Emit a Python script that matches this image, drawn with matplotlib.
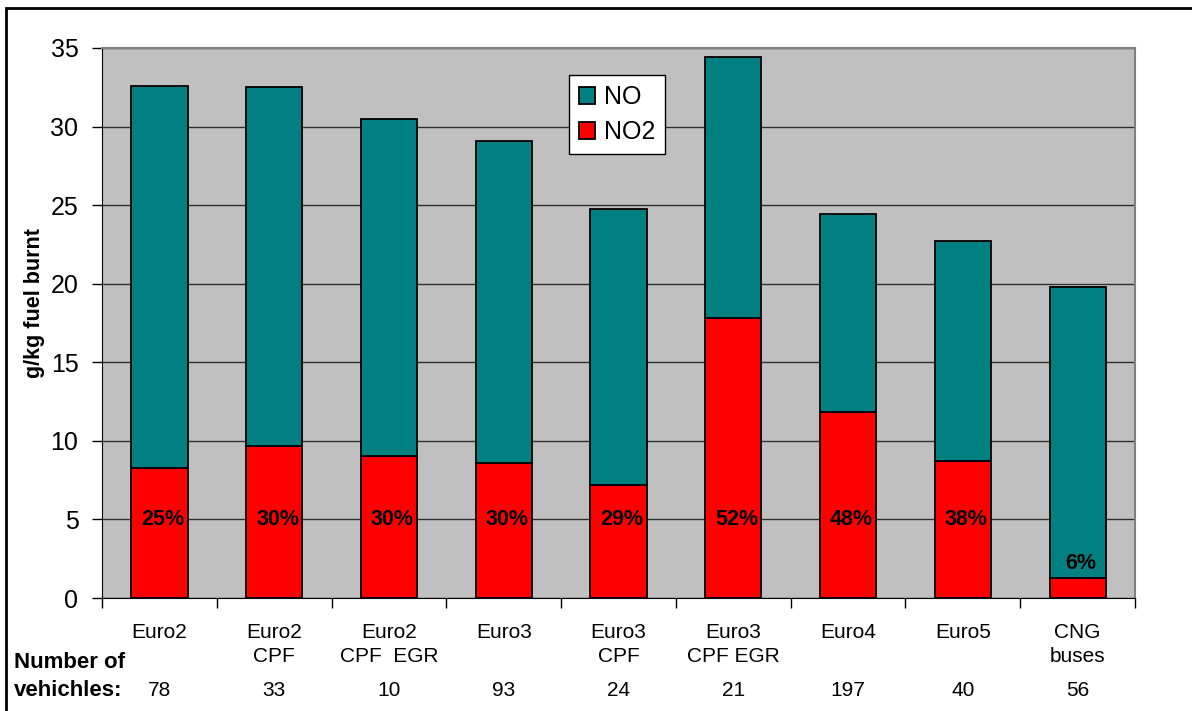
import matplotlib.pyplot as plt
from matplotlib.patches import Rectangle
from matplotlib.transforms import blended_transform_factory

plt.rcParams['font.family'] = ['Liberation Sans', 'DejaVu Sans']

# ==========================
# Data
# ==========================
cat_line1 = ["Euro2", "Euro2", "Euro2", "Euro3", "Euro3", "Euro3", "Euro4", "Euro5", "CNG"]
cat_line2 = ["", "CPF", "CPF  EGR", "", "CPF", "CPF EGR", "", "", "buses"]
n_vehicles = [78, 33, 10, 93, 24, 21, 197, 40, 56]
total_nox = [32.6, 32.5, 30.45, 29.05, 24.75, 34.4, 24.45, 22.7, 19.8]
no2 = [8.3, 9.7, 9.05, 8.6, 7.2, 17.85, 11.85, 8.75, 1.3]
no2_share = ["25%", "30%", "30%", "30%", "29%", "52%", "48%", "38%", "6%"]

no = [t - n for t, n in zip(total_nox, no2)]
x = list(range(len(cat_line1)))

fig = plt.figure(figsize=(11.92, 7.11), dpi=100)
ax = fig.add_axes([0.0856, 0.1589, 0.8666, 0.7736])

ax.set_facecolor("#C0C0C0")
ax.bar(x, no2, width=0.49, color="#FF0000", edgecolor="black", linewidth=1.3,
       label="NO2", zorder=3)
ax.bar(x, no, width=0.49, bottom=no2, color="#008080", edgecolor="black",
       linewidth=1.3, label="NO", zorder=3)

ax.set_xlim(-0.5, len(x) - 0.5)
ax.set_ylim(0, 35)
ax.set_yticks(range(0, 36, 5))
ax.yaxis.grid(True, color="#303030", linewidth=1.0, zorder=1)
ax.tick_params(axis="y", labelsize=18, direction="out", length=7, width=1, pad=10)

# tick marks on category boundaries, no labels
ax.set_xticks([i - 0.5 for i in range(len(x) + 1)])
ax.set_xticklabels([])
ax.tick_params(axis="x", direction="out", length=7, width=1)

for side in ["top", "right"]:
    ax.spines[side].set_color("#808080")
    ax.spines[side].set_linewidth(1.5)
ax.spines["left"].set_color("black")
ax.spines["bottom"].set_color("black")

ax.set_ylabel("g/kg fuel burnt", fontsize=15.5, fontweight="bold")
ax.yaxis.set_label_coords(-0.055, 0.536)

# percentage labels
for i, s in enumerate(no2_share):
    y = 5 if no2[i] > 5 else no2[i] + 0.9
    ax.text(i + 0.03, y, s, ha="center", va="center", fontsize=15.5,
            fontweight="bold", zorder=4)

# category labels and vehicle counts below the axis
trans = blended_transform_factory(ax.transData, fig.transFigure)
for i in x:
    ax.text(i, 1 - 632 / 711, cat_line1[i], transform=trans, ha="center",
            va="center", fontsize=15)
    if cat_line2[i]:
        ax.text(i, 1 - 656 / 711, cat_line2[i], transform=trans, ha="center",
                va="center", fontsize=15)
    ax.text(i, 1 - 690 / 711, str(n_vehicles[i]), transform=trans, ha="center",
            va="center", fontsize=15)

fig.text(14 / 1192, 1 - 663 / 711, "Number of", ha="left", va="center",
         fontsize=16, fontweight="bold")
fig.text(14 / 1192, 1 - 690 / 711, "vehichles:", ha="left", va="center",
         fontsize=16, fontweight="bold")

# legend: NO on top
h, l = ax.get_legend_handles_labels()
leg = ax.legend(h[::-1], l[::-1], loc="upper left", bbox_to_anchor=(0.452, 0.951),
                fontsize=18, frameon=True, fancybox=False, framealpha=1,
                edgecolor="black", handlelength=0.65, handleheight=0.65,
                handletextpad=0.35, labelspacing=0.45, borderpad=0.4,
                borderaxespad=0)
leg.get_frame().set_linewidth(1.0)

# outer frame (only left and top visible)
fig.patches.append(Rectangle((6 / 1192, -0.1), 1.2, 1 - 8 / 711 + 0.1,
                             transform=fig.transFigure, fill=False,
                             edgecolor="black", linewidth=2))

fig.savefig("out.png", dpi=100)
